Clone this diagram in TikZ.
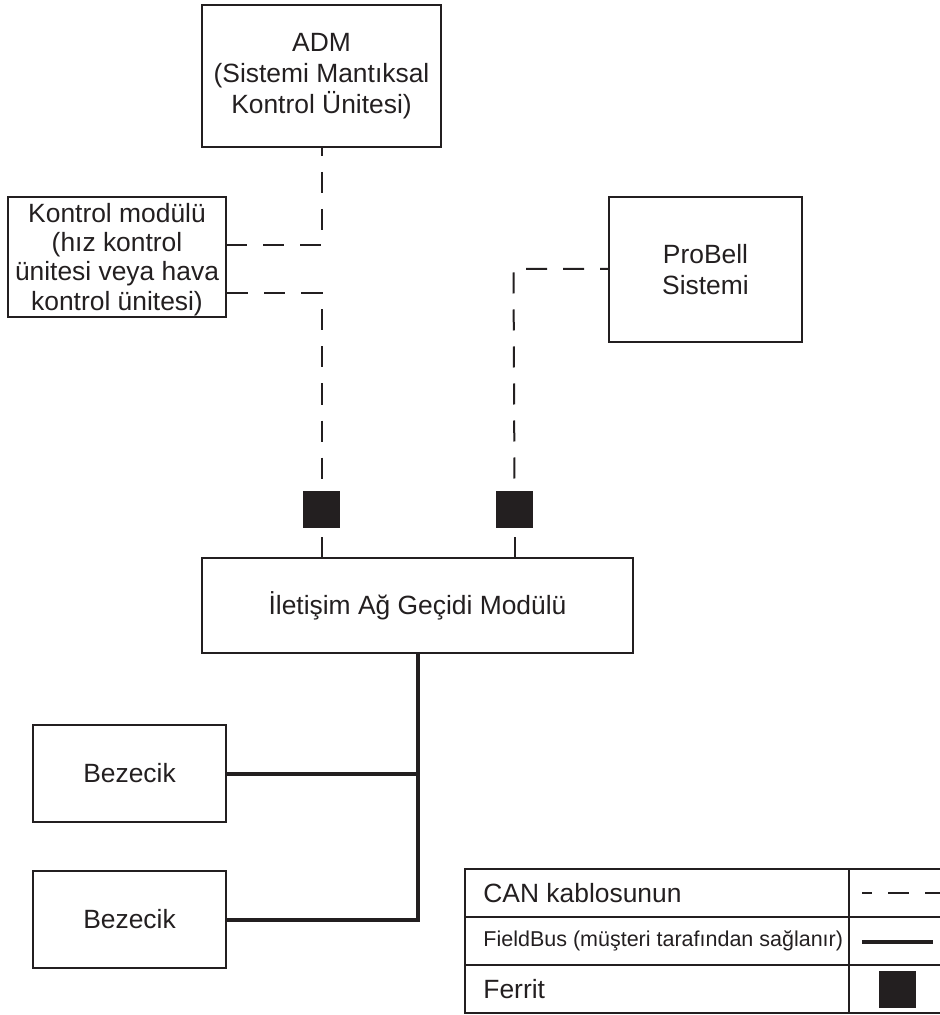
\documentclass[tikz,border=0pt]{standalone}
\usepackage{fontspec}
\setmainfont{Liberation Sans}
\usepackage{tikz}
\usetikzlibrary{positioning}
\definecolor{ink}{HTML}{231F20}
\tikzset{
  unit/.style={draw=ink, line width=1pt, text=ink, align=center, inner sep=0pt},
  ferrite/.style={fill=ink, minimum size=18.5pt, inner sep=0pt},
  can/.style={draw=ink, line width=1pt, dash pattern=on 10.5pt off 8pt},
  bus/.style={draw=ink, line width=2pt},
  frame/.style={draw=ink, line width=1pt},
  legtext/.style={anchor=west, text=ink, inner sep=0pt},
}

\begin{document}
\begin{tikzpicture}[x=0.5pt, y=-0.5pt, font=\fontsize{13.2}{15.5}\selectfont]
\useasboundingbox (0,0) rectangle (940,1015);
% units
\node[unit, minimum width=119.5pt, minimum height=71pt] (adm) at (321.5,76) {ADM\\(Sistemi Mantıksal\\Kontrol Ünitesi)};
\node[unit, minimum width=109pt, minimum height=60pt, font=\fontsize{13.2}{14.7}\selectfont] (ctrl) at (117,257) {\rule{0pt}{12pt}Kontrol modülü\\(hız kontrol\\ünitesi veya hava\\kontrol ünitesi)};
\node[unit, minimum width=96.5pt, minimum height=72.5pt] (probell) at (705.5,269.5) {ProBell\\Sistemi};
\node[ferrite] (fer1) at (321.5,509.5) {};
\node[ferrite, right=77.6pt of fer1] (fer2) {};
\node[unit, minimum width=215.5pt, minimum height=47.5pt] (gw) at (417.5,605.5) {İletişim Ağ Geçidi Modülü};
\node[unit, minimum width=96.5pt, minimum height=48.5pt] (bez1) at (129.5,773.5) {Bezecik};
\node[unit, minimum width=96.5pt, minimum height=48.5pt, below=23.5pt of bez1] (bez2) {Bezecik};

% CAN wiring
\coordinate (j1) at (321.5,245);
\coordinate (j2) at (321.5,293);
\coordinate (j3) at (513.5,269);
\draw[can, dash phase=6.5pt] (adm.south) -- (j1) -- (j1 -| ctrl.east);
\draw[can] (j2 -| ctrl.east) -- (j2) -- (fer1.north);
\draw[can, dash phase=6.5pt] (probell.west |- j3) -- (j3) -- (fer2.north);
\draw[can, dash phase=14pt] (fer1.south) -- (fer1.south |- gw.north);
\draw[can, dash phase=14pt] (fer2.south) -- (fer2.south |- gw.north);

% FieldBus
\coordinate (t1) at (gw.south |- bez1.east);
\draw[bus] (gw.south) |- (bez2.east);
\draw[bus] (t1) -- (bez1.east);

% legend
\draw[frame] (940,869) -- (465,869) -- (465,1013) -- (940,1013);
\draw[frame] (465,917) -- (940,917);
\draw[frame] (465,965) -- (940,965);
\draw[frame] (849,869) -- (849,1013);
\node[legtext] (lcan) at (483,893) {CAN kablosunun};
\node[legtext, font=\fontsize{10.75}{13}\selectfont] (lbus) at (483,941) {FieldBus (müşteri tarafından sağlanır)};
\node[legtext] (lfer) at (483,989) {Ferrit};
\coordinate (lcan-a) at (862,893);
\coordinate (lcan-b) at (940,893);
\coordinate (lbus-a) at (862,942);
\coordinate (lbus-b) at (933,942);
\draw[can, dash phase=5.5pt] (lcan-a) -- (lcan-b);
\draw[bus] (lbus-a) -- (lbus-b);
\node[ferrite] (lferbox) at (897.5,989.5) {};
\end{tikzpicture}
\end{document}
